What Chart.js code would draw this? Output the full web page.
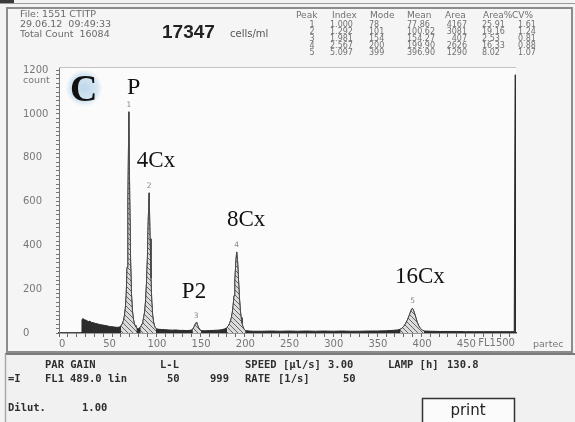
<!DOCTYPE html>
<html><head><meta charset="utf-8">
<script src="https://cdn.jsdelivr.net/npm/chart.js@4.4.1/dist/chart.umd.min.js"></script>
<style>html,body{margin:0;padding:0;background:#f3f3f3;overflow:hidden}canvas{display:block}</style>
</head><body>
<canvas id="c" width="575" height="422" style="width:575px;height:422px"></canvas>
<script>
// ---- data ----
const channels = [25,26,27,29,31,33,35,37,39,41,43,45,47,49,51,53,55,57,59,61,63,65,67,69,
 70,71,72,73,74,75,76,77,78,79,80,81,82,83,84,85,86,87,88,
 89,90,91,
 92,93,94,95,96,97,98,99,100,101,102,103,104,105,106,107,108,109,110,
 113,116,120,124,128,132,136,140,144,148,150,
 151,152,153,154,155,156,157,158,159,160,161,
 165,170,175,180,184,187,189,
 190,191,192,193,194,195,196,197,198,199,200,201,202,203,204,205,206,207,208,209,210,211,
 215,220,230,240,250,260,270,280,290,300,310,320,330,340,350,360,370,378,383,
 386,388,390,392,394,396,398,399,400,401,403,405,407,409,411,413,
 420,430,440,450,460,470,480,490,500,510,515,516,517];
const counts = [0,60,66,60,58,52,54,48,47,44,42,40,38,37,35,34,32,30,29,28,27,26,26,28,
 32,38,46,58,78,110,170,300,600,1010,620,330,180,105,68,46,34,27,23,
 21,21,23,
 27,33,42,55,75,100,150,230,340,520,640,430,250,140,80,50,33,24,19,
 17,16,15,14,13,14,12,12,11,12,14,
 17,22,30,40,47,44,34,24,17,13,11,
 10,11,12,13,15,18,22,
 26,30,36,44,55,70,92,125,170,240,320,370,330,250,170,110,70,45,30,20,14,11,
 9,8,8,9,8,9,8,9,8,9,8,9,8,8,9,9,10,12,14,
 17,22,30,42,58,78,100,110,112,104,80,52,32,20,13,9,
 8,7,7,7,6,6,6,6,6,6,6,1178,1178];
const gates = [[70,88],[92,110],[151,161],[190,211],[386,413]];
const peakNames = ['1','2','3','4','5'];
const xLabelStep = 50;
const xLabelMax = 450;
const yLabelStep = 200;
const tableHeader = ['Peak','Index','Mode','Mean','Area','Area%','CV%'];
const peakIndex = ['1.000','1.292','1.981','2.567','5.097'];
const peakMode = ['78','101','154','200','399'];
const peakMean = ['77.86','100.62','154.27','199.90','396.90'];
const peakArea = ['4167','3081','407','2626','1290'];
const peakAreaPct = ['25.91','19.16','2.53','16.33','8.02'];
const peakCV = ['1.61','1.24','0.81','0.88','1.07'];
const annoText = ['C','P','4Cx','P2','8Cx','16Cx'];
const annoX = [12.4,77,88,139,190,380];
const annoY = [1059,1091,758,160,489,228];

// ---- hatch pattern ----
function hatch(){
  const p=document.createElement('canvas'); p.width=5; p.height=5;
  const g=p.getContext('2d');
  g.fillStyle='#dcdcdc'; g.fillRect(0,0,5,5);
  g.strokeStyle='#666'; g.lineWidth=1;
  g.beginPath(); g.moveTo(-1,-1); g.lineTo(6,6); g.moveTo(-1,4); g.lineTo(1,6); g.moveTo(4,-1); g.lineTo(6,1); g.stroke();
  return document.getElementById('c').getContext('2d').createPattern(p,'repeat');
}
const pts = channels.map((c,i)=>({x:c,y:counts[i]}));
const datasets = [{data:pts,borderColor:'#2a2a2a',borderWidth:1,backgroundColor:'#2c2c2c',fill:'origin',pointRadius:0,tension:0,order:2}];
const pat = hatch();
gates.forEach(g=>{
  datasets.push({data:pts.filter(p=>p.x>=g[0]&&p.x<=g[1]),borderColor:'#4a4a4a',borderWidth:1,backgroundColor:pat,fill:'origin',pointRadius:0,tension:0,order:1});
});

const deco = {
  id:'deco',
  beforeDraw(chart){
    const ctx=chart.ctx, a=chart.chartArea;
    ctx.save();
    ctx.fillStyle='#f3f3f3'; ctx.fillRect(0,0,575,422);
    ctx.fillStyle='#3a3a3a'; ctx.fillRect(0,0,14,3);
    ctx.fillStyle='#9a9a9a'; ctx.fillRect(0,3,575,1);
    ctx.fillStyle='#f5f5f5'; ctx.fillRect(7,8,565,344);
    ctx.strokeStyle='#8c8c8c'; ctx.lineWidth=2; ctx.strokeRect(7,8,565,344);
    ctx.fillStyle='#fbfbfb'; ctx.fillRect(a.left,a.top-1,a.right-a.left,a.bottom-a.top+1);
    ctx.strokeStyle='#c4c4c4'; ctx.lineWidth=1;
    ctx.beginPath(); ctx.moveTo(a.left,a.top-0.5); ctx.lineTo(a.right,a.top-0.5); ctx.stroke();
    ctx.fillStyle='#f1f1f1'; ctx.fillRect(5,355,570,67);
    ctx.strokeStyle='#7a7a7a'; ctx.lineWidth=2;
    ctx.beginPath(); ctx.moveTo(5,354); ctx.lineTo(575,354); ctx.stroke();
    ctx.strokeStyle='#a8a8a8'; ctx.lineWidth=1.5;
    ctx.beginPath(); ctx.moveTo(5.5,354); ctx.lineTo(5.5,422); ctx.stroke();
    const xs=chart.scales.x, ys=chart.scales.y;
    const bx=xs.getPixelForValue(annoX[0])+14, by=ys.getPixelForValue(annoY[0])-13;
    const gr=ctx.createRadialGradient(bx,by,2,bx,by,19);
    gr.addColorStop(0,'rgba(190,215,235,0.95)'); gr.addColorStop(0.7,'rgba(200,222,240,0.7)'); gr.addColorStop(1,'rgba(220,235,245,0)');
    ctx.fillStyle=gr; ctx.beginPath(); ctx.ellipse(bx,by,18,19,0,0,Math.PI*2); ctx.fill();
    ctx.restore();
  },
  afterDraw(chart){
    const ctx=chart.ctx, xs=chart.scales.x, ys=chart.scales.y;
    ctx.save();
    ctx.textBaseline='middle';
    ctx.fillStyle='#6a6a6a'; ctx.font='9.5px "DejaVu Sans"'; ctx.textAlign='left';
    ctx.fillText('File: 1551 CTITP',20,15);
    ctx.fillText('29.06.12  09:49:33',20,25);
    ctx.fillText('Total Count  16084',20,35);
    ctx.fillStyle='#222'; ctx.font='bold 19px "Liberation Sans"';
    ctx.fillText('17347',162,33);
    ctx.fillStyle='#555'; ctx.font='10px "DejaVu Sans"';
    ctx.fillText('cells/ml',230,34);
    // table
    ctx.fillStyle='#707070'; ctx.font='9px "DejaVu Sans"';
    const hx=[296,332,370,407,445,483,512];
    tableHeader.forEach((t,i)=>ctx.fillText(t,hx[i],16));
    ctx.font='8px "DejaVu Sans"';
    const ry=[25,32,39,46,53];
    for(let r=0;r<5;r++){
      const y=ry[r];
      ctx.textAlign='center'; ctx.fillText(peakNames[r],312,y);
      ctx.textAlign='left';
      ctx.fillText(peakIndex[r],330,y);
      ctx.fillText(peakMode[r],369,y);
      ctx.fillText(peakMean[r],407,y);
      ctx.textAlign='right'; ctx.fillText(peakArea[r],467,y);
      ctx.textAlign='left';
      ctx.fillText(peakAreaPct[r],482,y);
      ctx.fillText(peakCV[r],518,y);
    }
    ctx.fillStyle='#777'; ctx.font='9.5px "DejaVu Sans"'; ctx.textAlign='left';
    ctx.fillText('count',23,81);
    ctx.textAlign='right'; ctx.font='10px "DejaVu Sans"';
    ctx.fillText('FL1500',xs.getPixelForValue(500)+14,343);
    ctx.textAlign='left'; ctx.font='9.5px "DejaVu Sans"';
    ctx.fillText('partec',533,345);
    ctx.fillStyle='#8a8a8a'; ctx.font='7.5px "DejaVu Sans"'; ctx.textAlign='center';
    gates.forEach((g,i)=>{
      let best=null;
      pts.forEach(p=>{ if(p.x>=g[0]&&p.x<=g[1]&&(!best||p.y>best.y)) best=p; });
      ctx.fillText(peakNames[i],xs.getPixelForValue(best.x),ys.getPixelForValue(best.y)-7);
    });
    ctx.fillStyle='#111'; ctx.textAlign='left'; ctx.textBaseline='alphabetic';
    annoText.forEach((t,i)=>{
      ctx.font = i===0 ? 'bold 38px "Liberation Serif"' : (i===1?'24px "Liberation Serif"':'23px "Liberation Serif"');
      ctx.fillText(t,xs.getPixelForValue(annoX[i]),ys.getPixelForValue(annoY[i]));
    });
    ctx.fillStyle='#2e2e2e'; ctx.font='bold 10.5px "DejaVu Sans Mono"'; ctx.textBaseline='middle';
    const row1=[['PAR GAIN',45],['L-L',160],['SPEED [µl/s]',245],['3.00',328],['LAMP [h]',388],['130.8',447]];
    const row2=[['=I',8],['FL1',45],['489.0',70],['lin',108],['50',167],['999',210],['RATE',245],['[1/s]',278],['50',343]];
    const row3=[['Dilut.',8],['1.00',82]];
    row1.forEach(t=>ctx.fillText(t[0],t[1],365));
    row2.forEach(t=>ctx.fillText(t[0],t[1],379));
    row3.forEach(t=>ctx.fillText(t[0],t[1],408));
    ctx.fillStyle='#fbfbfb'; ctx.fillRect(422,398,93,26);
    ctx.strokeStyle='#333'; ctx.lineWidth=1.5; ctx.strokeRect(422.5,398.5,92,26);
    ctx.fillStyle='#222'; ctx.font='15px "DejaVu Sans"'; ctx.textAlign='center';
    ctx.fillText('print',468,411);
    ctx.restore();
  }
};

new Chart(document.getElementById('c'),{
  type:'line',
  data:{datasets},
  options:{
    responsive:false, animation:false, events:[],
    layout:{padding:{left:23,top:68,right:59,bottom:0}},
    plugins:{legend:{display:false},tooltip:{enabled:false}},
    scales:{
      x:{type:'linear',min:0,max:517,
        afterFit:s=>{s.height=89;},
        border:{color:'#444',width:1.5},
        grid:{drawOnChartArea:false,tickLength:4,color:'#666'},
        ticks:{stepSize:10,autoSkip:false,includeBounds:false,maxRotation:0,align:'start',padding:1,color:'#777',
          font:{family:'DejaVu Sans',size:10},
          callback:v=>(v%xLabelStep===0&&v<=xLabelMax)?String(v):''}},
      y:{type:'linear',min:0,max:1210,
        afterFit:s=>{s.width=36;},
        border:{color:'#777',width:1},
        grid:{drawOnChartArea:false,tickLength:3,color:'#777'},
        ticks:{stepSize:20,autoSkip:false,includeBounds:false,crossAlign:'far',padding:2,color:'#777',
          font:{family:'DejaVu Sans',size:10},
          callback:v=>(v%yLabelStep===0)?String(v):''}}
    }
  },
  plugins:[deco]
});
</script>
</body></html>
